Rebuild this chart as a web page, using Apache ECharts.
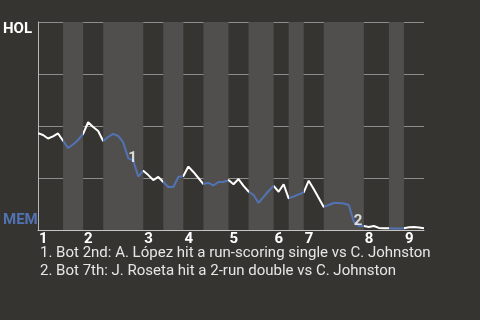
<!DOCTYPE html>
<html><head><meta charset="utf-8">
<script src="https://cdn.jsdelivr.net/npm/echarts@6/dist/echarts.min.js"></script>
<style>html,body{margin:0;padding:0;background:#363430;}#c{width:480px;height:320px;}</style>
</head><body><div id="c"></div>
<script>
// HOL win probability (%) after each play (index 0 = first pitch)
const winProb = [
  46.6, 45.7, 44.0, 45.0, 46.4, 42.9, 39.4, 41.1, 43.3, 46.2,
  51.8, 49.5, 47.6, 42.8, 44.7, 46.2, 45.2, 42.1, 34.6, 33.4,
  25.7, 28.5, 26.4, 24.0, 25.5, 23.1, 20.7, 20.7, 25.5, 26.0,
  30.5, 27.9, 25.0, 22.1, 22.7, 21.4, 23.1, 23.1, 24.0, 22.0,
  24.5, 21.2, 18.5, 16.8, 13.0, 15.9, 18.75, 21.2, 18.4, 22.0,
  15.2, 16.1, 17.1, 18.1, 23.7, 19.7, 15.4, 11.1, 12.0, 13.0,
  13.0, 12.7, 12.0, 4.0, 2.1, 1.9, 1.4, 1.9, 1.0, 0.8,
  0.8, 0.7, 0.7, 0.8, 1.3, 1.4, 1.2, 0.8
];
// play index where each half-inning starts (top 1, bot 1, top 2, ...), last = end
const halfStarts = [0, 5, 9, 13, 21, 25, 29, 33, 38, 42, 47, 50, 53, 57, 65, 70, 73, 77];
const inningLabels = ['1', '2', '3', '4', '5', '6', '7', '8', '9'];
const notePlays = [18, 63];
const noteLabels = ['1', '2'];
const notes = [
  '1. Bot 2nd: A. López hit a run-scoring single vs C. Johnston',
  '2. Bot 7th: J. Roseta hit a 2-run double vs C. Johnston'
];
const teams = ['HOL', 'MEM'];

const WHITE = '#ffffff', BLUE = '#5273b3', BAND = '#504f4d', BG = '#363430';

const topStarts = halfStarts.filter((v, i) => i % 2 === 0 && i < halfStarts.length - 1);
const pieces = [];
const areas = [];
for (let i = 0; i < halfStarts.length - 1; i++) {
  const last = i === halfStarts.length - 2;
  const p = { gte: halfStarts[i], color: i % 2 ? BLUE : WHITE };
  if (last) p.lte = halfStarts[i + 1]; else p.lt = halfStarts[i + 1];
  pieces.push(p);
  if (i % 2 === 1) areas.push([{ xAxis: halfStarts[i] }, { xAxis: halfStarts[i + 1] }]);
}

const chart = echarts.init(document.getElementById('c'), null, { renderer: 'canvas' });
chart.setOption({
  backgroundColor: BG,
  animation: false,
  textStyle: { fontFamily: 'Roboto' },
  grid: { left: 38, right: 56, top: 22, bottom: 90 },
  xAxis: {
    type: 'value', min: 0, max: halfStarts[halfStarts.length - 1],
    axisLine: { show: true, lineStyle: { color: '#c4c4c4', width: 1 } },
    axisTick: { show: false },
    splitLine: { show: false },
    axisLabel: {
      customValues: topStarts,
      formatter: v => inningLabels[topStarts.indexOf(v)] || '',
      color: '#ffffff', fontWeight: 'bold', fontSize: 15, align: 'left', margin: 2,
      padding: [0, 0, 0, 1], fontFamily: 'Roboto'
    }
  },
  yAxis: {
    type: 'value', min: 0, max: 100, interval: 25,
    axisLine: { show: true, lineStyle: { color: '#b8b8b8', width: 1 } },
    axisTick: { show: false },
    axisLabel: { show: false },
    splitLine: { show: true, lineStyle: { color: '#8c8c8c', width: 1 } }
  },
  visualMap: {
    show: false, type: 'piecewise', dimension: 0, seriesIndex: 0, pieces: pieces
  },
  series: [
    {
      type: 'line',
      data: winProb.map((v, i) => [i, v]),
      showSymbol: false,
      lineStyle: { width: 2 },
      z: 3,
      markArea: { silent: true, itemStyle: { color: BAND }, data: areas, z: 1 }
    },
    {
      type: 'scatter',
      data: notePlays.map((p, i) => ({ value: [p, winProb[p]], label: { formatter: noteLabels[i] } })),
      symbolSize: 0,
      z: 4,
      label: {
        show: true, position: 'right', distance: 0,
        color: '#ffffff', fontWeight: 'bold', fontSize: 15, fontFamily: 'Roboto'
      }
    }
  ],
  graphic: [
    { type: 'text', left: 3, top: 22, style: { text: teams[0], fill: '#ffffff', font: 'bold 15px Roboto' } },
    { type: 'text', left: 3, top: 213, style: { text: teams[1], fill: BLUE, font: 'bold 15px Roboto' } },
    { type: 'text', left: 40, top: 246, style: { text: notes[0], fill: '#e6e6e6', font: '15px Roboto' } },
    { type: 'text', left: 40, top: 263.5, style: { text: notes[1], fill: '#e6e6e6', font: '15px Roboto' } }
  ]
});
</script></body></html>
